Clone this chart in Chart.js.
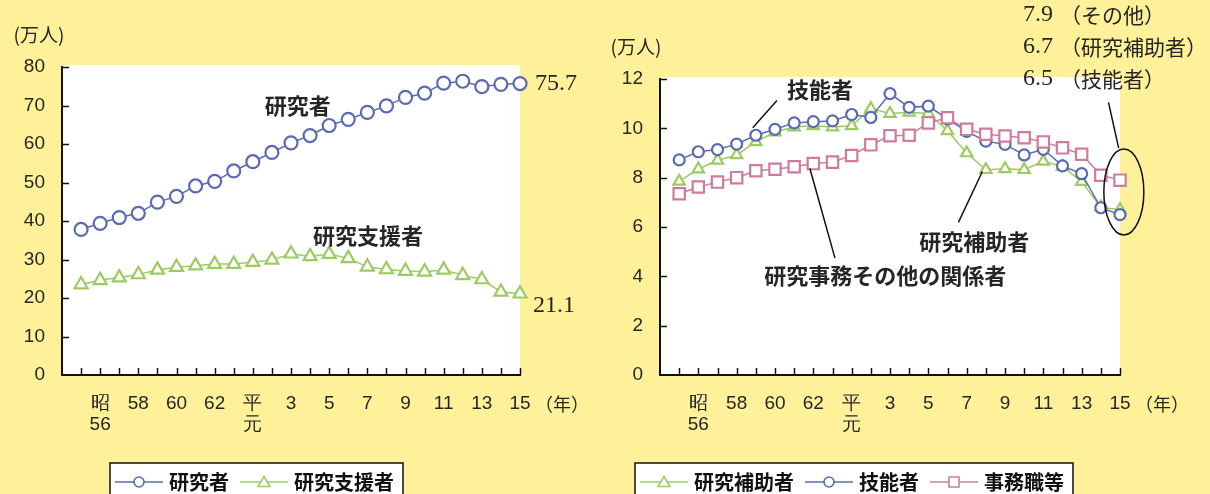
<!DOCTYPE html>
<html><head><meta charset="utf-8">
<script src="https://cdn.jsdelivr.net/npm/chart.js@4.4.1/dist/chart.umd.min.js"></script>
<style>
html,body{margin:0;padding:0;background:#FFF09A;}
#wrap{position:relative;width:1210px;height:494px;overflow:hidden;}
#c1{position:absolute;left:0;top:0;}
#c2{position:absolute;left:600px;top:0;}
</style></head><body>
<div id="wrap"><canvas id="c1" width="600" height="494"></canvas><canvas id="c2" width="610" height="494"></canvas></div>
<script>
// Survey years, Showa 55 (1980) to Heisei 15 (2003)
const years = ['昭55','昭56','昭57','昭58','昭59','昭60','昭61','昭62','昭63','平元','平2','平3','平4','平5','平6','平7','平8','平9','平10','平11','平12','平13','平14','平15'];
const tickLabels = ['', ['昭','56'], '', '58', '', '60', '', '62', '', ['平','元'], '', '3', '', '5', '', '7', '', '9', '', '11', '', '13', '', '15'];

// Left panel (10,000 persons)
const researchers  = [37.8, 39.4, 40.9, 42.0, 44.9, 46.4, 49.1, 50.3, 53.0, 55.4, 57.8, 60.3, 62.2, 64.8, 66.4, 68.2, 69.9, 72.1, 73.2, 75.8, 76.3, 74.9, 75.5, 75.7];
const supportStaff = [23.5, 24.6, 25.3, 26.1, 27.3, 28.0, 28.4, 28.8, 28.8, 29.3, 29.9, 31.5, 30.8, 31.4, 30.3, 28.1, 27.4, 27.0, 26.8, 27.3, 25.9, 24.8, 21.6, 21.1];
const leftTicks = {min: 0, max: 80, step: 10};

// Right panel (10,000 persons)
const assistants  = [7.85, 8.35, 8.7, 8.92, 9.45, 9.85, 10.05, 10.1, 10.05, 10.1, 10.8, 10.6, 10.65, 10.6, 9.9, 9.0, 8.32, 8.36, 8.32, 8.66, 8.45, 7.84, 6.8, 6.7];
const technicians = [8.72, 9.05, 9.14, 9.36, 9.72, 9.96, 10.22, 10.27, 10.3, 10.56, 10.44, 11.41, 10.85, 10.9, 10.38, 9.88, 9.48, 9.35, 8.92, 9.15, 8.48, 8.16, 6.78, 6.5];
const clerical    = [7.35, 7.62, 7.82, 8.0, 8.28, 8.34, 8.44, 8.57, 8.63, 8.9, 9.33, 9.7, 9.72, 10.22, 10.43, 9.96, 9.76, 9.69, 9.62, 9.45, 9.21, 8.95, 8.1, 7.9];
const rightTicks = {min: 0, max: 12, step: 2};

const BG = '#FFF09A';
const BLUE = '#5A6BB2', GREEN = '#9CCB62', PINK = '#CF7C9C';
const JP = '"Noto Sans CJK JP", sans-serif';
const SERIF = '"Liberation Serif", "DejaVu Serif", serif';
const TXT = '#262626';

Chart.defaults.font.family = '"Liberation Sans", Arial, sans-serif';

function pts(arr) { return arr.map((v, i) => ({x: i, y: v})); }

function legendIcon(color, shape) {
  const c = document.createElement('canvas'); c.width = 48; c.height = 16;
  const g = c.getContext('2d');
  g.strokeStyle = color; g.lineWidth = 1.3;
  g.beginPath(); g.moveTo(0, 8); g.lineTo(48, 8); g.stroke();
  g.fillStyle = '#fff'; g.lineWidth = 1.6;
  g.beginPath();
  if (shape === 'circle') g.arc(24, 8, 5, 0, Math.PI * 2);
  else if (shape === 'triangle') { g.moveTo(24, 2.5); g.lineTo(30, 12.5); g.lineTo(18, 12.5); g.closePath(); }
  else g.rect(19, 3, 10, 10);
  g.fill(); g.stroke();
  return c;
}

function series(label, data, color, style, radius, order) {
  return {
    label, data: pts(data), borderColor: color, backgroundColor: '#fff',
    borderWidth: 1.5, pointBorderWidth: 2.2, pointRadius: radius,
    pointStyle: style, pointBackgroundColor: '#fff', pointBorderColor: color,
    tension: 0, clip: false, order, icon: legendIcon(color, style === 'rect' ? 'rect' : style)
  };
}

function line(ctx, x1, y1, x2, y2) {
  ctx.beginPath(); ctx.moveTo(x1, y1); ctx.lineTo(x2, y2); ctx.stroke();
}

// Background, plot area, legend frame, inner tick marks and call-out texts
const deco = {
  id: 'deco',
  afterLayout(chart, args, o) {
    const lg = chart.legend;
    lg.left = o.legendX - lg.options.labels.padding;
    lg.top += o.legendShift; lg.bottom += o.legendShift;
  },
  beforeDraw(chart, args, o) {
    const {ctx, chartArea: a} = chart;
    ctx.save();
    ctx.fillStyle = BG; ctx.fillRect(0, 0, chart.width, chart.height);
    ctx.fillStyle = '#fff';
    ctx.fillRect(a.left, a.top - 2, a.right - a.left, a.bottom - a.top + 2);
    const hb = chart.legend.legendHitBoxes;
    if (hb && hb.length) {
      const last = hb[hb.length - 1];
      const l = hb[0].left - 9, r = last.left + last.width + 9, t = hb[0].top - 9;
      ctx.fillRect(l, t, r - l, chart.height - t + 5);
      ctx.strokeStyle = '#111'; ctx.lineWidth = 1.5;
      ctx.strokeRect(l, t, r - l, chart.height - t + 5);
    }
    ctx.restore();
  },
  afterDraw(chart, args, o) {
    const {ctx, chartArea: a} = chart;
    const xs = chart.scales.x, ys = chart.scales.y;
    ctx.save();
    ctx.strokeStyle = '#111'; ctx.lineWidth = 1.5;
    for (let i = 0; i < years.length; i++) {
      const px = Math.round(xs.getPixelForValue(i)) + 0.5;
      line(ctx, px, a.bottom, px, a.bottom - 7);
    }
    ys.ticks.forEach(t => {
      if (t.value === 0) return;
      const py = Math.round(ys.getPixelForValue(t.value)) + 0.5;
      line(ctx, a.left, py, a.left + 7, py);
    });
    // unit labels
    ctx.fillStyle = TXT; ctx.textBaseline = 'middle'; ctx.textAlign = 'center';
    ctx.font = '19px ' + JP;
    ctx.fillText('(万人)', o.unitX, o.unitY);
    ctx.textAlign = 'left';
    ctx.font = '18px ' + JP;
    ctx.fillText('（年）', xs.getPixelForValue(years.length - 1) + 15, a.bottom + 29);
    if (o.draw) o.draw(ctx, xs, ys);
    ctx.restore();
  }
};

function makeChart(id, datasets, ticks, opt) {
  return new Chart(document.getElementById(id), {
    type: 'line',
    data: {datasets},
    plugins: [deco],
    options: {
      responsive: false, animation: false, events: [],
      layout: {padding: {left: 0, right: opt.padRight, top: opt.padTop, bottom: 0}},
      scales: {
        x: {
          type: 'linear', min: -1, max: years.length - 1,
          grid: {display: false, drawTicks: false},
          border: {display: true, color: '#111', width: 2},
          ticks: {
            stepSize: 1, autoSkip: false, maxRotation: 0, minRotation: 0, padding: 18,
            color: TXT, font: {size: 19, lineHeight: 1.1},
            callback: v => tickLabels[v] ?? ''
          },
          afterFit: s => { s.height = 74; }
        },
        y: {
          min: ticks.min, max: ticks.max,
          grid: {display: false, drawTicks: false},
          border: {display: true, color: '#111', width: 2},
          ticks: {stepSize: ticks.step, padding: 17, color: TXT, font: {size: 19}},
          afterFit: s => { s.width = opt.axisW; }
        }
      },
      plugins: {
        tooltip: {enabled: false},
        legend: {
          position: 'bottom', align: 'start',
          labels: {
            usePointStyle: true, pointStyleWidth: 40, padding: 15,
            color: '#111', font: {family: JP, size: 20, weight: 'bold'},
            sort: (a, b) => a.datasetIndex - b.datasetIndex,
            generateLabels: chart => Chart.defaults.plugins.legend.labels.generateLabels(chart)
              .map(l => Object.assign(l, {pointStyle: chart.data.datasets[l.datasetIndex].icon}))
          }
        },
        deco: opt.deco
      }
    }
  });
}

// Left: researchers and research support staff
makeChart('c1', [
  series('研究者', researchers, BLUE, 'circle', 6.5, 0),
  series('研究支援者', supportStaff, GREEN, 'triangle', 7.5, 1)
], leftTicks, {
  padRight: 80, padTop: 67, axisW: 62,
  deco: {
    legendX: 119, legendShift: 8, unitX: 39, unitY: 35,
    draw(ctx, xs, ys) {
      const n = years.length - 1, lx = xs.getPixelForValue(n);
      ctx.fillStyle = TXT; ctx.textBaseline = 'middle';
      ctx.font = 'bold 22px ' + JP; ctx.textAlign = 'center';
      ctx.fillText('研究者', xs.getPixelForValue(11.35), ys.getPixelForValue(70));
      ctx.fillText('研究支援者', xs.getPixelForValue(15.03), ys.getPixelForValue(36.1));
      ctx.font = '24px ' + SERIF; ctx.textAlign = 'left';
      ctx.fillText(researchers[n].toFixed(1), lx + 15, ys.getPixelForValue(researchers[n]));
      ctx.fillText(supportStaff[n].toFixed(1), lx + 13, ys.getPixelForValue(supportStaff[n]) + 12);
    }
  }
});

// Right: breakdown of research support staff
makeChart('c2', [
  series('研究補助者', assistants, GREEN, 'triangle', 6.5, 2),
  series('技能者', technicians, BLUE, 'circle', 5.5, 1),
  series('事務職等', clerical, PINK, 'rect', 8, 0)
], rightTicks, {
  padRight: 90, padTop: 79, axisW: 60,
  deco: {
    legendX: 44, legendShift: 8, unitX: 36, unitY: 47,
    draw(ctx, xs, ys) {
      const n = years.length - 1;
      const X = v => xs.getPixelForValue(v), Y = v => ys.getPixelForValue(v);
      ctx.fillStyle = TXT; ctx.textBaseline = 'middle'; ctx.textAlign = 'center';
      ctx.font = 'bold 22px ' + JP;
      ctx.fillText('技能者', X(7.35), Y(11.55));
      ctx.fillText('研究事務その他の関係者', X(10.75), Y(4.04));
      ctx.fillText('研究補助者', X(15.4), Y(5.4));
      ctx.strokeStyle = '#111'; ctx.lineWidth = 1.5;
      line(ctx, X(5.1), Y(11.13), X(3.84), Y(10.02));
      line(ctx, X(6.82), Y(8.37), X(8.13), Y(4.74));
      line(ctx, X(14.57), Y(6.19), X(15.82), Y(8.25));
      ctx.beginPath();
      ctx.ellipse(X(23.2), Y(7.42), 20, 43, 0, 0, Math.PI * 2);
      ctx.stroke();
      line(ctx, X(22.93), Y(9.2), X(22.4), Y(11.05));
      // final-year values
      const rows = [[clerical[n], '（その他）'], [assistants[n], '（研究補助者）'], [technicians[n], '（技能者）']];
      rows.forEach((r, i) => {
        const y = 15 + i * 32;
        ctx.textAlign = 'left';
        ctx.font = '24px ' + SERIF;
        ctx.fillText(r[0].toFixed(1), 423, y);
        ctx.font = '21px ' + JP;
        ctx.fillText(r[1], 460, y);
      });
    }
  }
});
</script>
</body></html>
